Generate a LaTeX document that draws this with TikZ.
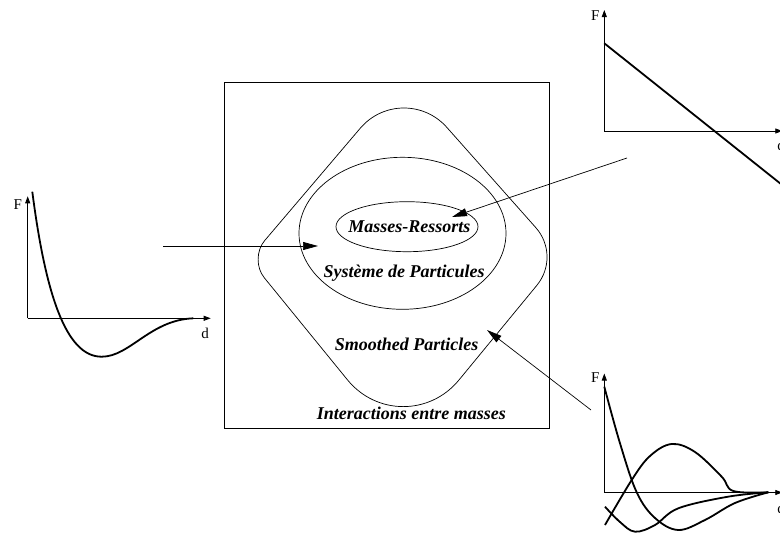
\documentclass[tikz,border=0pt]{standalone}
\usepackage{fontspec}
\setmainfont{Liberation Serif}
\usetikzlibrary{arrows.meta,shapes.geometric,calc}

\begin{document}
\begin{tikzpicture}[x=1pt, y=-1pt,
    zone/.style={draw, line width=0.7pt, inner sep=0pt},
    lab/.style={font=\fontsize{18}{20}\selectfont\bfseries\itshape, inner sep=0pt, anchor=base},
    axlab/.style={font=\fontsize{15}{17}\selectfont, inner sep=0pt},
    axis/.style={line width=0.8pt, -{Triangle[length=7pt,width=5pt]}},
    curve/.style={line width=1.8pt, line join=round},
    link/.style={line width=0.7pt, -{Triangle[length=15pt,width=8pt]}}]
    \useasboundingbox (0,0) rectangle (780,533);

    % Frame and nested zones
    \node[zone, minimum width=325pt, minimum height=346pt] (frame) at (386.5,255) {};
    \coordinate (vt) at (403,78);
    \coordinate (vl) at (249,259);
    \coordinate (vb) at (403,448);
    \coordinate (vr) at (561,256);
    \draw[line width=0.7pt]
        ($(vt)!66pt!(vr)$) .. controls ($(vt)!31pt!(vr)$) and ($(vt)!31pt!(vl)$) .. ($(vt)!66pt!(vl)$)
        -- ($(vl)!24pt!(vt)$) .. controls ($(vl)!11pt!(vt)$) and ($(vl)!11pt!(vb)$) .. ($(vl)!24pt!(vb)$)
        -- ($(vb)!88pt!(vl)$) .. controls ($(vb)!42pt!(vl)$) and ($(vb)!42pt!(vr)$) .. ($(vb)!88pt!(vr)$)
        -- ($(vr)!38pt!(vb)$) .. controls ($(vr)!16pt!(vb)$) and ($(vr)!16pt!(vt)$) .. ($(vr)!38pt!(vt)$)
        -- cycle;
    \node[zone, ellipse, minimum width=207pt, minimum height=152pt] (sys) at (402.5,233.3) {};
    \node[zone, ellipse, minimum width=142pt, minimum height=50pt] (ms) at (407,226.7) {};

    \node[lab] (mr) at (409.5,232.3) {Masses-Ressorts};
    \node[lab] (sdp) at (404,277.3) {Système de Particules};
    \node[lab] (smp) at (406.7,350.7) {Smoothed Particles};
    \node[lab] (iem) at (411.3,419.3) {Interactions entre masses};

    % Left graph
    \coordinate (o1) at (27.7,318.3);
    \draw[axis] (o1) -- ++(0,-122);
    \draw[axis] (o1) -- ++(183,0);
    \node[axlab] (f1) at (17.7,204.7) {F};
    \node[axlab] (d1) at (205,333) {d};
    \draw[curve] (32.3,191.7) .. controls (45,290) and (65,357) .. (101.7,356.7)
        .. controls (130,356.7) and (150,320) .. (193.3,318.3);

    % Top right graph
    \coordinate (o2) at (604.3,131);
    \draw[axis] (o2) -- ++(0,-121);
    \draw[axis] (o2) -- ++(178,0);
    \node[axlab] (f2) at (595.3,15.3) {F};
    \node[axlab] (d2) at (781,145) {d};
    \draw[curve] (604.3,43.3) -- (800,199.2);

    % Bottom right graph
    \coordinate (o3) at (604.3,492.5);
    \draw[axis] (o3) -- ++(0,-119);
    \draw[axis] (o3) -- ++(178,0);
    \node[axlab] (f3) at (595.3,378) {F};
    \node[axlab] (d3) at (781,508) {d};
    \draw[curve] plot[smooth, tension=0.6] coordinates {(604.3,386.7) (620,443.3) (636.7,492.3)
        (655,518) (678.3,530) (705,520) (735,503) (768.3,492.3)};
    \draw[curve] plot[smooth, tension=0.6] coordinates {(605,525) (631.7,480) (650,456)
        (671.7,444) (695,452) (721.7,476.7) (733.3,491) (768.3,492.3)};
    \draw[curve] plot[smooth, tension=0.6] coordinates {(605,506.7) (620,522) (635,531.7)
        (655,525) (678.3,508.3) (728,496.7) (768.3,492.3)};

    % Arrows
    \coordinate (a1) at (163,246);
    \coordinate (t1) at (318,246);
    \coordinate (a2) at (627,158);
    \coordinate (t2) at (452,217);
    \coordinate (a3) at (591,410);
    \coordinate (t3) at (487,330);
    \draw[link] (a1) -- (t1);
    \draw[link] (a2) -- (t2);
    \draw[link] (a3) -- (t3);
\end{tikzpicture}
\end{document}
